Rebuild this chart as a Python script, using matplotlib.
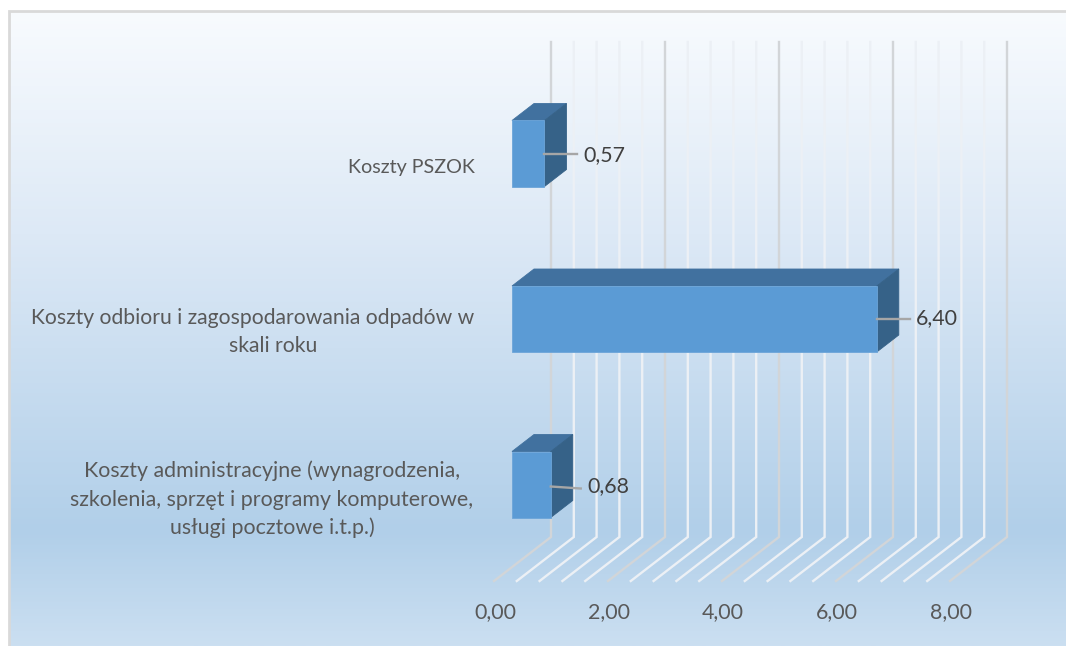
import numpy as np
import matplotlib
matplotlib.use("Agg")
import matplotlib.pyplot as plt
from matplotlib.colors import LinearSegmentedColormap
from matplotlib.patches import Polygon

categories = [["Koszty administracyjne (wynagrodzenia,", "szkolenia, sprzęt i programy komputerowe,", "usługi pocztowe i.t.p.)"],
              ["Koszty odbioru i zagospodarowania odpadów w", "skali roku"],
              ["Koszty PSZOK"]]
values = [0.68, 6.40, 0.57]
value_labels = ["0,68", "6,40", "0,57"]
major_ticks = [0, 2, 4, 6, 8]
major_labels = ["0,00", "2,00", "4,00", "6,00", "8,00"]
minor_step = 0.4

# layout only: pixel centres of each category-label line
label_cx = [[272, 272, 272], [252.5, 273], [411]]
label_cy = [[471, 499.5, 528], [318, 346], [168]]
label_fs = [15.4, 15.2, 14.2]
value_cy = [486, 318, 155]
value_gap = [37, 39, 39]

W, H = 1066, 646
plt.rcParams['font.family'] = ['Lato', 'DejaVu Sans']
FS = 15.4
fig = plt.figure(figsize=(W/100, H/100), dpi=100, facecolor='white')
ax = fig.add_axes([0, 0, 1, 1])
px = 57.0; py = 165.5
x0 = 512; y0 = 484.5
ax.set_xlim(-x0/px, (W-x0)/px)
ax.set_ylim((y0-H)/py, y0/py)
ax.axis('off')
def X(p): return p/px
def Y(p): return p/py
def PX(p): return (p-x0)/px
def PY(p): return (y0-p)/py

# background
cmap = LinearSegmentedColormap.from_list('bg', [(0, '#f8fbfe'), (0.35, '#dde9f6'), (0.82, '#b1cfe9'), (1, '#cbdff1')])
xl, yl = ax.get_xlim(), ax.get_ylim()
frame_l, frame_r = PX(9), xl[1]
frame_b, frame_t = yl[0], PY(11)
grad = np.linspace(0, 1, 256)[:, None]
ax.imshow(grad, cmap=cmap, extent=[frame_l, frame_r, frame_b, frame_t], origin='upper', aspect='auto', zorder=0)
ax.set_xlim(xl); ax.set_ylim(yl)
ax.plot([frame_l, frame_l, frame_r], [frame_b, frame_t, frame_t], color='#d9d9d9', lw=2, zorder=1, solid_joinstyle='miter')

# walls
floor_front = (-18, y0-581); floor_back = (39, y0-537); wall_top = y0-42
for i in range(int(round(8/minor_step))+1):
    v = i*minor_step
    major = abs(v/2-round(v/2)) < 1e-6
    c = '#d2d5d8' if major else '#ecf0f5'
    ax.plot([v+X(floor_front[0]), v+X(floor_back[0]), v+X(floor_back[0])],
            [Y(floor_front[1]), Y(floor_back[1]), Y(wall_top)], color=c, lw=1.7, zorder=2, solid_joinstyle='miter')

# bars
bh = 66/py
ddx, ddy = X(22), Y(17)
for i, v in enumerate(values):
    top = i+bh/2; bot = i-bh/2
    ax.add_patch(Polygon([(0, top), (v, top), (v+ddx, top+ddy), (ddx, top+ddy)], fc='#41719f', ec='#41719f', lw=.6, zorder=3))
    ax.add_patch(Polygon([(v, top), (v+ddx, top+ddy), (v+ddx, bot+ddy), (v, bot)], fc='#366288', ec='#366288', lw=.6, zorder=3))
ax.barh(range(3), values, height=bh, color='#5b9bd5', edgecolor='#6ca5d9', lw=.6, zorder=4)
for i, (v, lab) in enumerate(zip(values, value_labels)):
    ax.plot([v, v+X(33 if i != 0 else 30)], [i+Y(-2 if i == 0 else 0), i+Y(-4 if i == 0 else 0)], color='#a6a6a6', lw=1.7, zorder=5)
    ax.text(v+X(value_gap[i]), PY(value_cy[i]), lab, fontsize=FS, color='#404040', va='center', ha='left', zorder=6)
    for line, cx, cy in zip(categories[i], label_cx[i], label_cy[i]):
        ax.text(PX(cx), PY(cy), line, fontsize=label_fs[i], color='#595959', ha='center', va='center', zorder=6)

for t, l in zip(major_ticks, major_labels):
    ax.text(t+X(-17), PY(612), l, fontsize=FS, color='#595959', ha='center', va='center', zorder=6)
fig.savefig('out.png', dpi=100)
